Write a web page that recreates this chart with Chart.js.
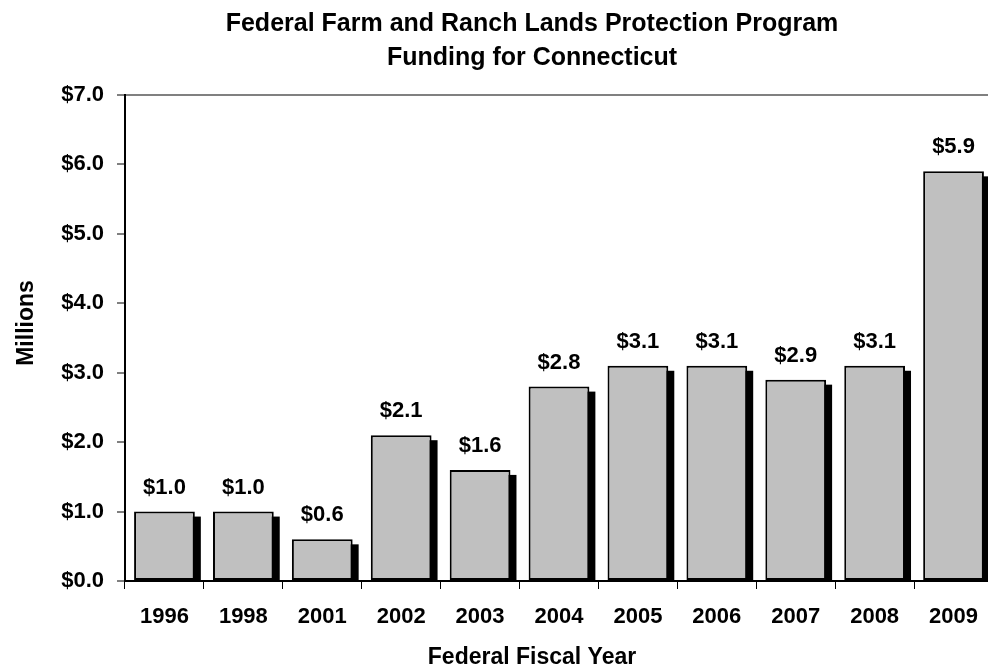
<!DOCTYPE html>
<html>
<head>
<meta charset="utf-8">
<script src="https://cdn.jsdelivr.net/npm/chart.js@4"></script>
<style>
  html, body { margin: 0; padding: 0; background: #fff; overflow: hidden; }
  #wrap { width: 988px; height: 671px; overflow: hidden; position: relative; }
  canvas { display: block; }
</style>
</head>
<body>
<div id="wrap"><canvas id="c" width="1000" height="671"></canvas></div>
<script>
const categories = ['1996', '1998', '2001', '2002', '2003', '2004', '2005', '2006', '2007', '2008', '2009'];
const funding = [1.0, 1.0, 0.6, 2.1, 1.6, 2.8, 3.1, 3.1, 2.9, 3.1, 5.9];
const titleLines = ['Federal Farm and Ranch Lands Protection Program', 'Funding for Connecticut'];
const xTitle = 'Federal Fiscal Year';
const yTitle = 'Millions';

const FONT = '"Liberation Sans", Arial, sans-serif';

const shadowPlugin = {
  id: 'barShadow',
  beforeDatasetsDraw(chart) {
    const ctx = chart.ctx;
    const area = chart.chartArea;
    const meta = chart.getDatasetMeta(0);
    ctx.save();
    ctx.beginPath();
    ctx.rect(area.left, area.top - 10, area.right - area.left + 20, area.bottom - area.top + 10);
    ctx.clip();
    ctx.fillStyle = '#000';
    meta.data.forEach(el => {
      const left = el.x - el.width / 2 + 6;
      const top = el.y + 5;
      ctx.fillRect(left, top, el.width, el.base - top);
    });
    ctx.restore();
  }
};

const labelPlugin = {
  id: 'valueLabels',
  afterDatasetsDraw(chart) {
    const ctx = chart.ctx;
    const meta = chart.getDatasetMeta(0);
    ctx.save();
    ctx.fillStyle = '#000';
    ctx.font = 'bold 22px ' + FONT;
    ctx.textAlign = 'center';
    ctx.textBaseline = 'alphabetic';
    meta.data.forEach((el, i) => {
      ctx.fillText('$' + funding[i].toFixed(1), el.x, el.y - 18);
    });
    ctx.restore();
  }
};

const titlePlugin = {
  id: 'titles',
  afterDraw(chart) {
    const ctx = chart.ctx;
    ctx.save();
    ctx.fillStyle = '#000';
    ctx.textAlign = 'center';
    ctx.textBaseline = 'alphabetic';
    ctx.font = 'bold 25px ' + FONT;
    ctx.fillText(titleLines[0], 532, 31);
    ctx.fillText(titleLines[1], 532, 65);
    ctx.font = 'bold 23px ' + FONT;
    ctx.fillText(xTitle, 532, 664);
    ctx.translate(33, 323);
    ctx.rotate(-Math.PI / 2);
    ctx.fillText(yTitle, 0, 0);
    ctx.restore();
  }
};

new Chart(document.getElementById('c'), {
  type: 'bar',
  data: {
    labels: categories,
    datasets: [{
      data: funding,
      backgroundColor: '#C0C0C0',
      borderColor: '#000',
      borderWidth: 2,
      borderSkipped: false,
      barPercentage: 0.77,
      categoryPercentage: 1.0
    }]
  },
  options: {
    responsive: false,
    devicePixelRatio: 1,
    animation: false,
    layout: { padding: { top: 95, right: 7, bottom: 0, left: 0 } },
    plugins: { legend: { display: false }, tooltip: { enabled: false }, title: { display: false } },
    scales: {
      x: {
        type: 'category',
        afterFit(scale) { scale.height = 90; },
        grid: {
          display: true,
          drawOnChartArea: false,
          offset: true,
          tickLength: 8,
          tickColor: '#000',
          tickWidth: 1
        },
        border: { display: true, color: '#000', width: 2 },
        ticks: {
          color: '#000',
          font: { family: FONT, size: 22, weight: 'bold' },
          padding: 15,
          maxRotation: 0,
          autoSkip: false
        }
      },
      y: {
        min: 0,
        max: 7,
        afterFit(scale) { scale.width = 125; },
        grid: {
          drawOnChartArea: true,
          color: (c) => (c.tick && c.tick.value === 7 ? '#808080' : 'rgba(0,0,0,0)'),
          lineWidth: 2,
          tickLength: 8,
          tickColor: '#000',
          tickWidth: 1
        },
        border: { display: true, color: '#000', width: 2 },
        ticks: {
          stepSize: 1,
          color: '#000',
          padding: 13,
          font: { family: FONT, size: 22, weight: 'bold' },
          callback: (v) => '$' + Number(v).toFixed(1)
        }
      }
    }
  },
  plugins: [shadowPlugin, labelPlugin, titlePlugin]
});
</script>
</body>
</html>
